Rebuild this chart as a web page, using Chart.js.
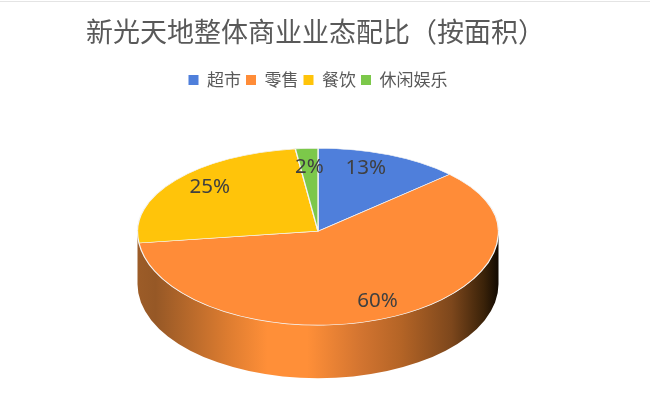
<!DOCTYPE html>
<html>
<head>
<meta charset="utf-8">
<style>
html,body{margin:0;padding:0;background:#fff;overflow:hidden}
#wrap{position:relative;width:650px;height:410px}
#edge{position:absolute;left:0;top:1px;width:650px;height:1px;background:#e4e4e4}
canvas{display:block}
</style>
<script src="https://cdn.jsdelivr.net/npm/chart.js@4"></script>
</head>
<body>
<div id="wrap"><canvas id="c" width="650" height="410"></canvas><div id="edge"></div></div>
<script>
const chartTitle = "新光天地整体商业业态配比（按面积）";
const categories = ["超市", "零售", "餐饮", "休闲娱乐"];
const shares = [13, 60, 25, 2];
const sliceColors = ["#4F7FDB", "#FF8C38", "#FFC40A", "#7CC84A"];

// 3D look: the library's arcs are drawn squashed, above and below the hub
const RADIUS = 180.5, SQUASH_UP = 83 / RADIUS, SQUASH_DOWN = 94 / RADIUS, DEPTH = 53;
const labelNudge = [[12, -25], [21, 27], [-37, -19], [-3, -23]];

function drawWall(ctx, a) {
  const ry = RADIUS * SQUASH_DOWN;
  const g = ctx.createLinearGradient(a.x - RADIUS, 0, a.x + RADIUS, 0);
  [[0, "#9c5c28"], [0.05, "#965826"], [0.25, "#dd7c30"], [0.36, "#ff8f38"], [0.47, "#ff8f38"],
   [0.62, "#d27430"], [0.73, "#b46426"], [0.87, "#7d471c"], [0.96, "#3a2209"], [1, "#120a02"]]
    .forEach(s => g.addColorStop(s[0], s[1]));
  ctx.save();
  ctx.beginPath();
  ctx.ellipse(a.x, a.y, RADIUS, ry, 0, 0, Math.PI);
  ctx.lineTo(a.x - RADIUS, a.y + DEPTH);
  ctx.ellipse(a.x, a.y + DEPTH, RADIUS, ry, 0, Math.PI, 0, true);
  ctx.closePath();
  ctx.fillStyle = g;
  ctx.fill();
  ctx.restore();
}

const pie3d = {
  id: "pie3d",
  afterLayout(chart) {
    // title sits a little left of the pie's centre
    chart.titleBlock.left = 0;
    chart.titleBlock.right = 631;
  },
  beforeDatasetDraw(chart, args) {
    const ctx = chart.ctx, a = args.meta.data[0], w = chart.width, h = chart.height;
    drawWall(ctx, a);
    [[0, a.y + 0.4, SQUASH_UP], [a.y - 0.4, h, SQUASH_DOWN]].forEach(p => {
      ctx.save();
      ctx.beginPath();
      ctx.rect(0, p[0], w, p[1] - p[0]);
      ctx.clip();
      ctx.translate(a.x, a.y);
      ctx.scale(1, p[2]);
      ctx.translate(-a.x, -a.y);
      args.meta.controller.draw();
      ctx.restore();
    });
    return false;
  },
  afterDatasetsDraw(chart) {
    const ctx = chart.ctx, meta = chart.getDatasetMeta(0);
    ctx.save();
    ctx.font = '20.5px "Noto Sans"';
    ctx.fillStyle = "#404040";
    ctx.textAlign = "center";
    ctx.textBaseline = "middle";
    meta.data.forEach((arc, i) => {
      const c = arc.getCenterPoint();
      const up = c.y < arc.y ? SQUASH_UP : SQUASH_DOWN;
      ctx.fillText(shares[i] + "%", c.x + labelNudge[i][0], arc.y + (c.y - arc.y) * up + labelNudge[i][1]);
    });
    ctx.restore();
  }
};

new Chart(document.getElementById("c"), {
  type: "pie",
  data: {
    labels: categories,
    datasets: [{
      data: shares,
      backgroundColor: sliceColors,
      borderColor: "#f4f4f4",
      borderWidth: 1.3,
      radius: RADIUS
    }]
  },
  options: {
    responsive: false,
    animation: false,
    layout: { padding: { left: 0, right: 14, top: 0, bottom: 46 } },
    plugins: {
      tooltip: { enabled: false },
      title: {
        display: true,
        text: chartTitle,
        color: "#595959",
        font: { family: '"Noto Sans CJK SC"', size: 27, weight: "normal" },
        padding: { top: 16, bottom: 18 }
      },
      legend: {
        position: "top",
        labels: {
          color: "#595959",
          font: { family: '"Noto Sans CJK SC"', size: 17 },
          boxWidth: 10,
          boxHeight: 10,
          padding: 5,
          generateLabels(chart) {
            return Chart.overrides.pie.plugins.legend.labels.generateLabels(chart)
              .map(l => Object.assign(l, { lineWidth: 0 }));
          }
        }
      }
    }
  },
  plugins: [pie3d]
});
</script>
</body>
</html>
